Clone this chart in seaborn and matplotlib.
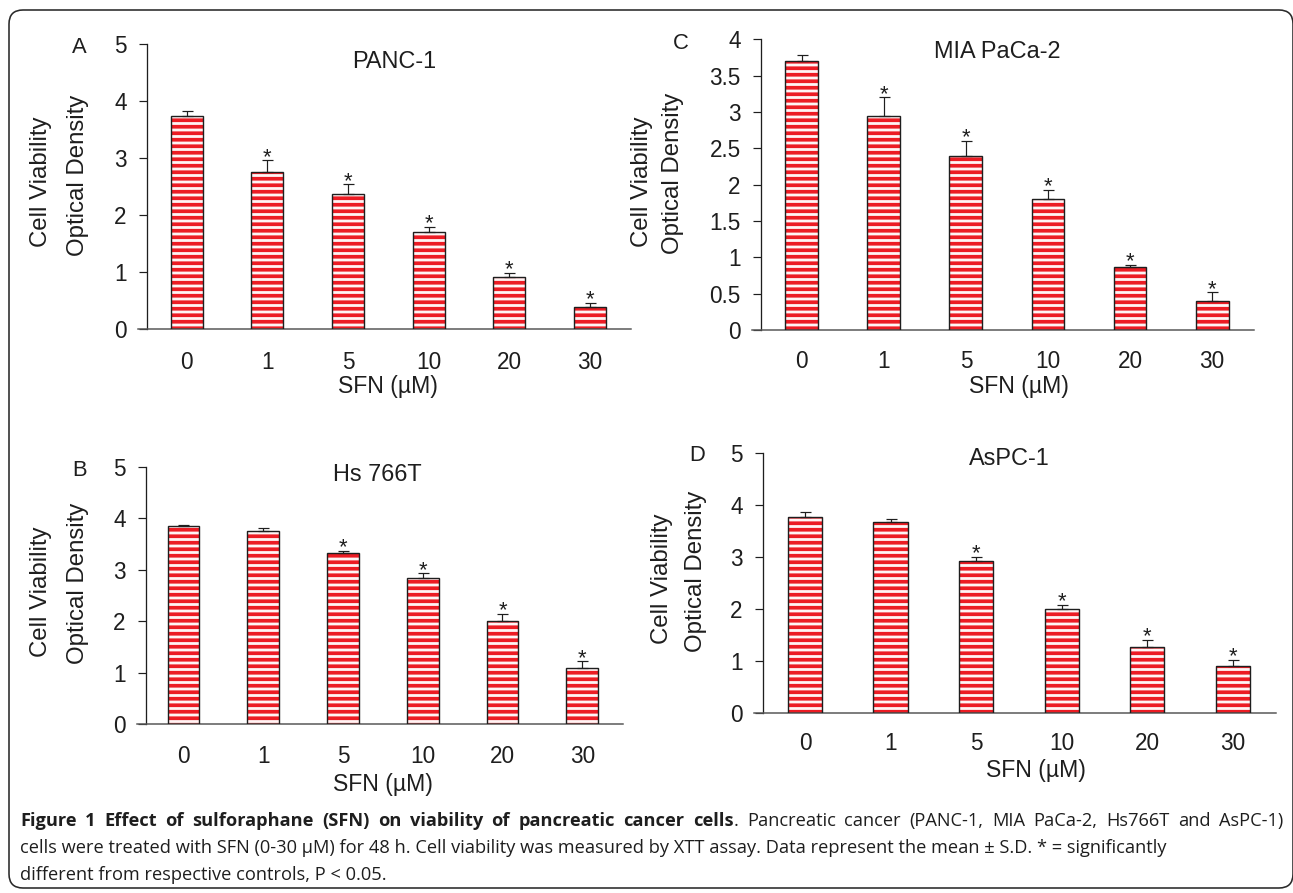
import numpy as np
import pandas as pd
import matplotlib
matplotlib.use("Agg")
import matplotlib.pyplot as plt
import seaborn as sns
from matplotlib.patches import FancyBboxPatch
from matplotlib.transforms import IdentityTransform
from matplotlib.ticker import FuncFormatter

# ---------------- data ----------------
sfn_doses = ["0", "1", "5", "10", "20", "30"]

panc1_mean = [3.74, 2.76, 2.37, 1.71, 0.92, 0.38]
panc1_sd = [0.08, 0.20, 0.17, 0.08, 0.07, 0.08]
panc1_sig = [False, True, True, True, True, True]

mia_mean = [3.70, 2.95, 2.39, 1.80, 0.86, 0.40]
mia_sd = [0.09, 0.25, 0.21, 0.13, 0.04, 0.12]
mia_sig = [False, True, True, True, True, True]

hs766t_mean = [3.85, 3.76, 3.32, 2.84, 2.01, 1.09]
hs766t_sd = [0.02, 0.05, 0.05, 0.09, 0.13, 0.13]
hs766t_sig = [False, False, True, True, True, True]

aspc1_mean = [3.78, 3.67, 2.93, 2.00, 1.27, 0.91]
aspc1_sd = [0.09, 0.07, 0.08, 0.08, 0.14, 0.12]
aspc1_sig = [False, False, True, True, True, True]

yticks_5 = [0, 1, 2, 3, 4, 5]
yticks_4 = [0, 0.5, 1, 1.5, 2, 2.5, 3, 3.5, 4]

ylabel_line1 = "Cell Viability"
ylabel_line2 = "Optical Density"
xlabel_text = "SFN (µM)"

cap_bold = "Figure 1 Effect of sulforaphane (SFN) on viability of pancreatic cancer cells"
cap_rest1 = ". Pancreatic cancer (PANC-1, MIA PaCa-2, Hs766T and AsPC-1)"
cap_line2 = ("cells were treated with SFN (0-30 µM) for 48 h. Cell viability was measured by XTT assay. "
             "Data represent the mean ± S.D. * = significantly")
cap_line3 = "different from respective controls, P < 0.05."

# ---------------- style ----------------
W, H, DPI = 1293, 893, 78


def pt(px):
    return px * 72.0 / DPI


sns.set_theme(style="white")
plt.rcParams["font.family"] = ["Liberation Sans", "DejaVu Sans"]
plt.rcParams["hatch.linewidth"] = pt(3.7)

RED = "#ec1c24"
DARK = "#1e1e1e"

fig = plt.figure(figsize=(W / DPI, H / DPI), dpi=DPI)
fig.patch.set_facecolor("white")


def fx(x):
    return x / W


def fy(y):
    return 1 - y / H


panels = [
    dict(letter="A", title="PANC-1", mean=panc1_mean, sd=panc1_sd, sig=panc1_sig, yticks=yticks_5,
         box=(146.7, 630.7, 44.0, 329.0), xlim=(-0.496, 5.505),
         letter_xy=(79.5, 47.5), title_xy=(394, 62), yl1=(41, 181.5), yl2=(78, 175.5),
         xl=(388, 387), xpad=22),
    dict(letter="C", title="MIA PaCa-2", mean=mia_mean, sd=mia_sd, sig=mia_sig, yticks=yticks_4,
         box=(760.7, 1254.0, 39.3, 330.0), xlim=(-0.50, 5.51),
         letter_xy=(681, 43.7), title_xy=(997, 52), yl1=(641.7, 181.7), yl2=(673.3, 173.3),
         xl=(1019, 386.7), xpad=20),
    dict(letter="B", title="Hs 766T", mean=hs766t_mean, sd=hs766t_sd, sig=hs766t_sig, yticks=yticks_5,
         box=(145.7, 623.3, 466.7, 724.0), xlim=(-0.474, 5.515),
         letter_xy=(79.5, 470.3), title_xy=(377.5, 475.3), yl1=(40.8, 591.3), yl2=(77.8, 583.3),
         xl=(383.3, 785), xpad=21),
    dict(letter="D", title="AsPC-1", mean=aspc1_mean, sd=aspc1_sd, sig=aspc1_sig, yticks=yticks_5,
         box=(762.7, 1276.0, 453.3, 713.3), xlim=(-0.494, 5.506),
         letter_xy=(697, 456), title_xy=(1009, 458.7), yl1=(662.2, 578.3), yl2=(696.2, 571.3),
         xl=(1035.8, 770), xpad=18.5),
]

for pnl in panels:
    left, right, top, bottom = pnl["box"]
    ax = fig.add_axes([fx(left), fy(bottom), (right - left) / W, (bottom - top) / H])
    df = pd.DataFrame({"dose": sfn_doses, "od": pnl["mean"]})

    # striped fill layer
    sns.barplot(data=df, x="dose", y="od", order=sfn_doses, ax=ax, color="white",
                saturation=1, width=0.4, errorbar=None)
    n0 = len(ax.patches)
    for p in ax.patches:
        p.set_facecolor("#fff4f4")
        p.set_edgecolor(RED)
        p.set_linewidth(0)
        p.set_hatch("--")
        p.set_zorder(2)
    # outline layer
    sns.barplot(data=df, x="dose", y="od", order=sfn_doses, ax=ax, color=DARK,
                saturation=1, width=0.4, errorbar=None, fill=False)
    for p in ax.patches[n0:]:
        p.set_facecolor("none")
        p.set_edgecolor(DARK)
        p.set_linewidth(pt(1.4))
        p.set_hatch(None)
        p.set_zorder(3)

    xs = np.arange(len(sfn_doses))
    ax.errorbar(xs, pnl["mean"], yerr=[np.zeros(len(xs)), pnl["sd"]], fmt="none",
                ecolor=DARK, elinewidth=pt(1.2), capsize=pt(5.5), capthick=pt(1.2), zorder=4)
    for i, s in enumerate(pnl["sig"]):
        if s:
            ax.annotate("*", xy=(xs[i], pnl["mean"][i] + pnl["sd"][i]), xytext=(0, -pt(2.5)),
                        textcoords="offset points", ha="center", va="baseline",
                        fontsize=pt(22), color=DARK, zorder=5)

    ax.set_xlim(*pnl["xlim"])
    ax.set_ylim(0, pnl["yticks"][-1])
    ax.set_yticks(pnl["yticks"])
    ax.yaxis.set_major_formatter(FuncFormatter(lambda v, _: f"{v:g}"))
    ax.set_xlabel("")
    ax.set_ylabel("")
    ax.set_facecolor("white")
    ax.grid(False)
    for sp in ["top", "right"]:
        ax.spines[sp].set_visible(False)
    ax.spines["left"].set_color(DARK)
    ax.spines["left"].set_linewidth(pt(1.3))
    ax.spines["bottom"].set_color("#555555")
    ax.spines["bottom"].set_linewidth(pt(1.5))
    ax.spines["bottom"].set_bounds(pnl["xlim"][0] - 0.105, pnl["xlim"][1])
    ax.tick_params(axis="y", left=True, direction="out", length=pt(8.5), width=pt(1.2),
                   color=DARK, pad=pt(11.5), labelsize=pt(22.5), labelcolor=DARK)
    ax.tick_params(axis="x", bottom=False, length=0, pad=pt(pnl["xpad"]),
                   labelsize=pt(22.5), labelcolor=DARK)

    fig.text(fx(pnl["letter_xy"][0]), fy(pnl["letter_xy"][1]), pnl["letter"], ha="center",
             va="center", fontsize=pt(22), color=DARK)
    fig.text(fx(pnl["title_xy"][0]), fy(pnl["title_xy"][1]), pnl["title"], ha="center",
             va="center", fontsize=pt(23.5), color=DARK)
    fig.text(fx(pnl["yl1"][0]), fy(pnl["yl1"][1]), ylabel_line1, rotation=90, ha="center",
             va="center", fontsize=pt(24), color=DARK)
    fig.text(fx(pnl["yl2"][0]), fy(pnl["yl2"][1]), ylabel_line2, rotation=90, ha="center",
             va="center", fontsize=pt(24), color=DARK)
    fig.text(fx(pnl["xl"][0]), fy(pnl["xl"][1]), xlabel_text, ha="center", va="center",
             fontsize=pt(23), color=DARK)

# ---------------- frame ----------------
frame = FancyBboxPatch((9, 5), 1284, 878, boxstyle="round,pad=0,rounding_size=14",
                       transform=IdentityTransform(), fill=False, edgecolor="#2a2a2a",
                       linewidth=pt(1.6))
fig.add_artist(frame)

# ---------------- caption ----------------
cap_family = ["Open Sans", "DejaVu Sans"]
cap_x = 20
cap_right = 1283
base_size = pt(15)
t2 = fig.text(fx(cap_x), fy(848), cap_line2, ha="left", va="center", fontsize=base_size,
              family=cap_family, color=DARK)
fig.canvas.draw()
r = fig.canvas.get_renderer()
w2 = t2.get_window_extent(r).width
size = base_size * (1146.0 / w2)
t2.set_fontsize(size)
fig.text(fx(cap_x), fy(875), cap_line3, ha="left", va="center", fontsize=size,
         family=cap_family, color=DARK)

# first caption line: justified to the full width (bold lead-in + regular rest)
bold_words = cap_bold.split(" ")
rest_words = cap_rest1.split(" ")
groups = [[(w, "bold")] for w in bold_words[:-1]]
groups.append([(bold_words[-1], "bold"), (rest_words[0], "normal")])
groups += [[(w, "normal")] for w in rest_words[1:]]

pieces = []
for g in groups:
    gp = []
    for txt, wt in g:
        t = fig.text(0, fy(821), txt, ha="left", va="center", fontsize=size,
                     family=cap_family, weight=wt, color=DARK)
        gp.append(t)
    pieces.append(gp)
fig.canvas.draw()
r = fig.canvas.get_renderer()
widths = [[t.get_window_extent(r).width for t in gp] for gp in pieces]
total = sum(sum(ws) for ws in widths)
gap = ((cap_right - cap_x) - total) / (len(pieces) - 1)
xcur = cap_x
for gp, ws in zip(pieces, widths):
    for t, w in zip(gp, ws):
        t.set_x(fx(xcur))
        xcur += w
    xcur += gap

fig.savefig("out.png", dpi=DPI, facecolor="white")
